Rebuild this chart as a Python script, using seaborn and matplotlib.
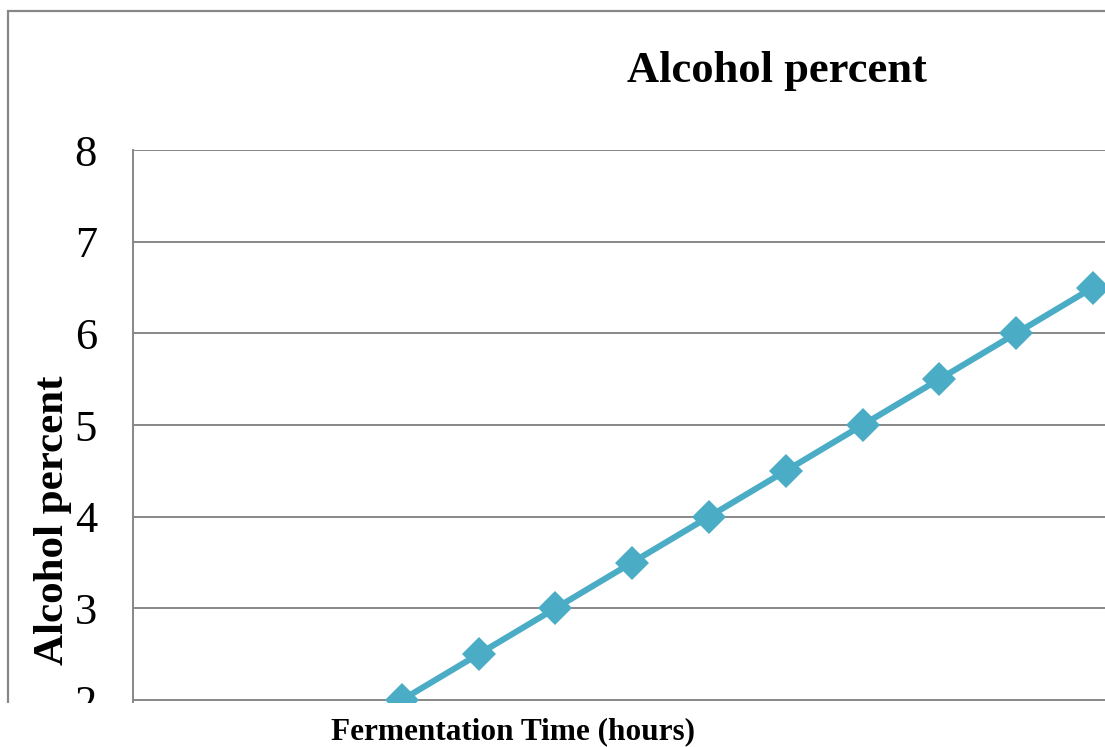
import matplotlib
matplotlib.use("Agg")
import matplotlib.pyplot as plt
from matplotlib.patches import Rectangle
import seaborn as sns
import pandas as pd

# Fermentation readings (sample index along the time axis, alcohol %)
time_index = [3, 4, 5, 6, 7, 8, 9, 10, 11, 12]
alcohol_pct = [2.0, 2.5, 3.0, 3.5, 4.0, 4.5, 5.0, 5.5, 6.0, 6.5]
y_ticks = [2, 3, 4, 5, 6, 7, 8]

title_text = "Alcohol percent"
y_label = "Alcohol percent"
x_label = "Fermentation Time (hours)"

line_color = "#4BACC6"
grid_color = "#878787"

sns.set_style("white")
plt.rcParams["font.family"] = ["Liberation Serif", "DejaVu Serif"]
plt.rcParams["text.color"] = "black"
plt.rcParams["ytick.color"] = "black"

W, H = 1105, 747
fig = plt.figure(figsize=(W / 100, H / 100), dpi=100)

# plot area: left edge at 133 px, top (y=8) at 150 px, bottom cut at 703 px
left = 133 / W
bottom = 1 - 703 / H
top = 1 - 150 / H
right_px = 133 + 13 * 76.8
ax = fig.add_axes([left, bottom, (right_px - 133) / W, top - bottom])

df = pd.DataFrame({"t": time_index, "alc": alcohol_pct})
sns.lineplot(data=df, x="t", y="alc", ax=ax, color=line_color, linewidth=4.4,
             marker="D", markersize=17, markeredgewidth=0, zorder=3)

ax.set_xlim(-0.5, 12.5)
ax.set_ylim(2 - 3 / 91.7, 8)
ax.set_yticks(y_ticks)
ax.set_yticklabels([str(v) for v in y_ticks], fontsize=32, color="black")
ax.tick_params(axis="y", length=0, pad=26)
ax.set_xticks([])
ax.set_xlabel("")
ax.set_ylabel("")

ax.grid(axis="y", color=grid_color, linewidth=1.4)
ax.set_axisbelow(True)
for side in ["bottom", "right", "top"]:
    ax.spines[side].set_visible(False)
ax.spines["left"].set_color(grid_color)
ax.spines["left"].set_linewidth(1.4)

# outer chart frame
frame = Rectangle((8 / W, -0.2), 1.5, (1 - 11 / H) + 0.2, transform=fig.transFigure,
                  fill=False, edgecolor=grid_color, linewidth=1.6, zorder=0)
fig.patches.append(frame)

# white strip below the cut line
cover = Rectangle((0, 0), 1, bottom, transform=fig.transFigure,
                  facecolor="white", edgecolor="none", zorder=10)
fig.patches.append(cover)

fig.text(777 / W, 1 - 71 / H, title_text, ha="center", va="center",
         fontsize=32, fontweight="bold", color="black", zorder=11)
fig.text(53 / W, 1 - 520 / H, y_label, ha="center", va="center", rotation=90,
         fontsize=31, fontweight="bold", color="black", zorder=11)
fig.text(513 / W, 1 - 732 / H, x_label, ha="center", va="center",
         fontsize=22.5, fontweight="bold", color="black", zorder=11)

fig.savefig("out.png", dpi=100, facecolor="white")
